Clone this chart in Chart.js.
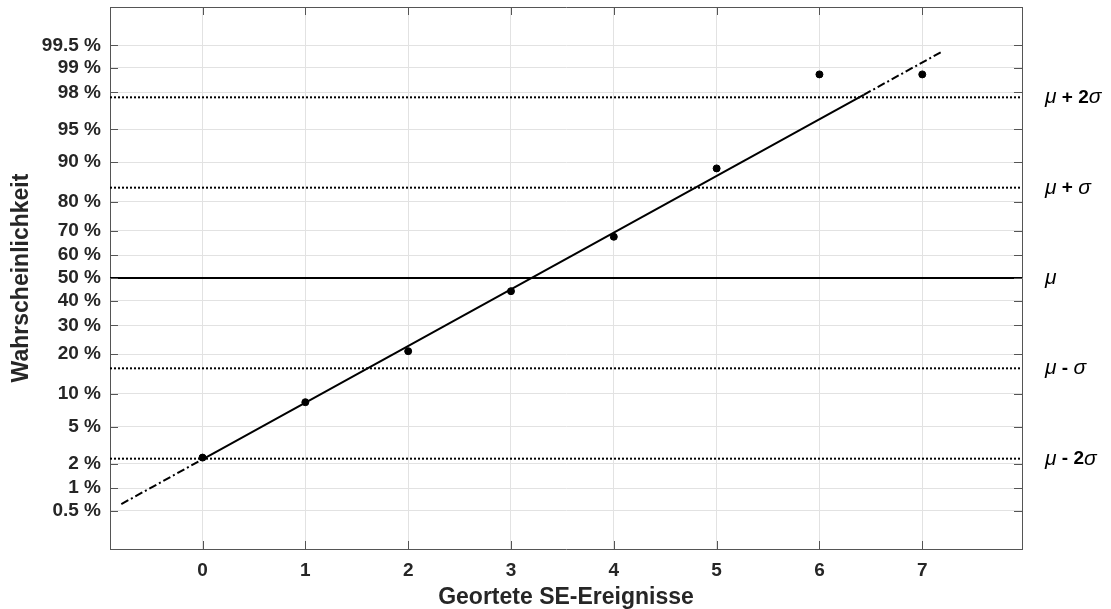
<!DOCTYPE html>
<html>
<head>
<meta charset="utf-8">
<script src="https://cdn.jsdelivr.net/npm/chart.js@4"></script>
<style>
  body { margin: 0; background: #fff; }
  #wrap { width: 1111px; height: 609px; }
</style>
</head>
<body>
<div id="wrap"><canvas id="chart-1" width="1111" height="609"></canvas></div>
<script>
// values (probabilities in %)
const events = [0, 1, 2, 3, 4, 5, 6, 7];
const probs = [2.34, 8.46, 20.9, 44.2, 67.6, 88.75, 98.79, 98.79];

const yTickPct = [0.5, 1, 2, 5, 10, 20, 30, 40, 50, 60, 70, 80, 90, 95, 98, 99, 99.5];
const xTicks = [0, 1, 2, 3, 4, 5, 6, 7];

// fitted line
const fitSolidX = [0, 6.43];
const fitSolidP = [2.24, 97.87];
const fitLeftX = [-0.79, 0];
const fitLeftP = [0.616, 2.24];
const fitRightX = [6.43, 7.2];
const fitRightP = [97.87, 99.40];

const sigmaLevels = [-2, -1, 0, 1, 2];
const sigmaLabels = [
    [['μ', 'i'], [' - ', 'b'], ['2', 'b'], ['σ', 'i']],
    [['μ', 'i'], [' - ', 'b'], ['σ', 'i']],
    [['μ', 'i']],
    [['μ', 'i'], [' + ', 'b'], ['σ', 'i']],
    [['μ', 'i'], [' + ', 'b'], ['2', 'b'], ['σ', 'i']],
];

const xMin = -0.9, xMax = 7.97;
const zMin = -3, zMax = 3;

// inverse normal CDF (probability paper scale)
function probit(p) {
    const a = [-3.969683028665376e+01, 2.209460984245205e+02, -2.759285104469687e+02, 1.383577518672690e+02, -3.066479806614716e+01, 2.506628277459239e+00];
    const b = [-5.447609879822406e+01, 1.615858368580409e+02, -1.556989798598866e+02, 6.680131188771972e+01, -1.328068155288572e+01];
    const c = [-7.784894002430293e-03, -3.223964580411365e-01, -2.400758277161838e+00, -2.549732539343734e+00, 4.374664141464968e+00, 2.938163982698783e+00];
    const d = [7.784695709041462e-03, 3.224671290700398e-01, 2.445134137142996e+00, 3.754408661907416e+00];
    const pl = 0.02425, ph = 1 - pl;
    let q, r;
    if (p < pl) {
        q = Math.sqrt(-2 * Math.log(p));
        return (((((c[0] * q + c[1]) * q + c[2]) * q + c[3]) * q + c[4]) * q + c[5]) / ((((d[0] * q + d[1]) * q + d[2]) * q + d[3]) * q + 1);
    }
    if (p <= ph) {
        q = p - 0.5; r = q * q;
        return (((((a[0] * r + a[1]) * r + a[2]) * r + a[3]) * r + a[4]) * r + a[5]) * q / (((((b[0] * r + b[1]) * r + b[2]) * r + b[3]) * r + b[4]) * r + 1);
    }
    q = Math.sqrt(-2 * Math.log(1 - p));
    return -(((((c[0] * q + c[1]) * q + c[2]) * q + c[3]) * q + c[4]) * q + c[5]) / ((((d[0] * q + d[1]) * q + d[2]) * q + d[3]) * q + 1);
}

const toPts = (xs, ps) => xs.map((x, i) => ({ x: x, y: probit(ps[i] / 100) }));

Chart.defaults.font.family = "'Liberation Sans', Arial, sans-serif";
Chart.defaults.color = '#262626';

const axisColor = '#555555';
const gridColor = '#e2e2e2';

// MATLAB style inward ticks and right side sigma labels
const boxPlugin = {
    id: 'box',
    afterDraw(chart) {
        const ctx = chart.ctx;
        const xs = chart.scales.x, ys = chart.scales.y;
        const area = chart.chartArea;
        const len = 8;
        ctx.save();
        ctx.strokeStyle = axisColor;
        ctx.lineWidth = 1;
        ctx.beginPath();
        xTicks.forEach(v => {
            const px = Math.round(xs.getPixelForValue(v)) + 0.5;
            ctx.moveTo(px, area.bottom); ctx.lineTo(px, area.bottom - len);
            ctx.moveTo(px, area.top); ctx.lineTo(px, area.top + len);
        });
        yTickPct.forEach(p => {
            const py = Math.round(ys.getPixelForValue(probit(p / 100))) + 0.5;
            ctx.moveTo(area.left, py); ctx.lineTo(area.left + len, py);
            ctx.moveTo(area.right, py); ctx.lineTo(area.right - len, py);
        });
        ctx.stroke();

        ctx.fillStyle = '#000';
        ctx.textBaseline = 'middle';
        sigmaLevels.forEach((lv, i) => {
            const py = ys.getPixelForValue(lv);
            let px = area.right + 23;
            sigmaLabels[i].forEach(seg => {
                ctx.font = seg[1] === 'i'
                    ? "italic 21px 'Liberation Sans', Arial, sans-serif"
                    : "bold 19px 'Liberation Sans', Arial, sans-serif";
                ctx.fillText(seg[0], px, py);
                px += ctx.measureText(seg[0]).width;
            });
        });
        ctx.restore();
    }
};

const hLine = lv => [{ x: xMin, y: lv }, { x: xMax, y: lv }];

const ctx1 = document.getElementById('chart-1').getContext('2d');
const myChart = new Chart(ctx1, {
    type: 'scatter',
    data: {
        datasets: [
            {
                label: 'Messpunkte',
                data: events.map((x, i) => ({ x: x, y: probit(probs[i] / 100) })),
                backgroundColor: '#000',
                borderColor: '#000',
                pointRadius: 3.5,
                order: 0,
            },
            {
                label: 'Fit',
                data: toPts(fitSolidX, fitSolidP),
                showLine: true, pointRadius: 0,
                borderColor: '#000', borderWidth: 2,
                order: 1,
            },
            {
                label: 'Fit links',
                data: toPts(fitLeftX, fitLeftP),
                showLine: true, pointRadius: 0,
                borderColor: '#000', borderWidth: 2, borderDash: [8, 3, 2, 3],
                order: 1,
            },
            {
                label: 'Fit rechts',
                data: toPts(fitRightX, fitRightP),
                showLine: true, pointRadius: 0,
                borderColor: '#000', borderWidth: 2, borderDash: [8, 3, 2, 3],
                order: 1,
            },
            ...sigmaLevels.map(lv => ({
                label: 'sigma ' + lv,
                data: hLine(lv),
                showLine: true, pointRadius: 0,
                borderColor: '#000',
                borderWidth: 2,
                borderDash: lv === 0 ? [] : [2, 2],
                order: 2,
            })),
        ],
    },
    plugins: [boxPlugin],
    options: {
        responsive: true,
        maintainAspectRatio: false,
        animation: false,
        devicePixelRatio: 1,
        layout: { padding: 0 },
        plugins: {
            legend: { display: false },
            tooltip: { enabled: false },
        },
        scales: {
            x: {
                type: 'linear',
                position: 'bottom',
                min: xMin, max: xMax,
                afterBuildTicks: s => { s.ticks = xTicks.map(v => ({ value: v })); },
                afterFit: s => { s.height = 60; s.paddingLeft = 0; s.paddingRight = 0; },
                grid: { color: gridColor, drawTicks: false },
                border: { color: axisColor, width: 1 },
                ticks: { padding: 10, font: { size: 19, weight: 'bold' }, color: '#262626' },
                title: {
                    display: true, text: 'Geortete SE-Ereignisse',
                    font: { size: 23, weight: 'bold', lineHeight: 1 }, color: '#262626',
                    padding: { top: 0, bottom: 0 },
                },
            },
            x2: {
                type: 'linear',
                position: 'top',
                min: xMin, max: xMax,
                afterFit: s => { s.height = 7; },
                grid: { display: false, drawTicks: false },
                border: { color: axisColor, width: 1 },
                ticks: { display: false },
            },
            y: {
                type: 'linear',
                position: 'left',
                min: zMin, max: zMax,
                afterBuildTicks: s => { s.ticks = yTickPct.map(p => ({ value: probit(p / 100) })); },
                afterFit: s => { s.width = 110; s.paddingTop = 0; s.paddingBottom = 0; },
                grid: { color: gridColor, drawTicks: false },
                border: { color: axisColor, width: 1 },
                ticks: {
                    padding: 9,
                    font: { size: 19, weight: 'bold' }, color: '#262626',
                    callback: (v, i) => yTickPct[i] + ' %',
                },
                title: {
                    display: true, text: 'Wahrscheinlichkeit',
                    font: { size: 23, weight: 'bold', lineHeight: 1 }, color: '#262626',
                    padding: { top: 10, bottom: 0 },
                },
            },
            y2: {
                type: 'linear',
                position: 'right',
                min: zMin, max: zMax,
                afterFit: s => { s.width = 89; s.paddingTop = 0; s.paddingBottom = 0; },
                grid: { display: false, drawTicks: false },
                border: { color: axisColor, width: 1 },
                ticks: { display: false },
            },
        },
    },
});
</script>
</body>
</html>
